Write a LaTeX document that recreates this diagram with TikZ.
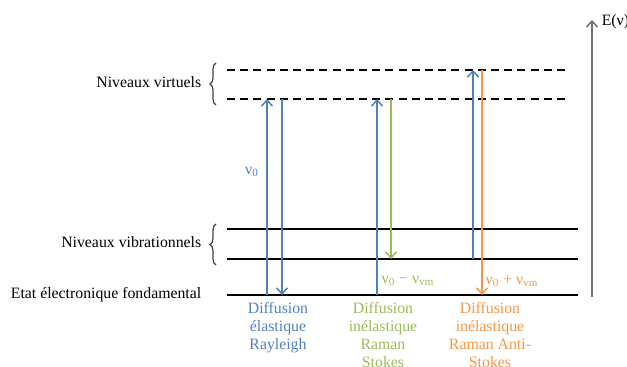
\documentclass[tikz,border=0pt]{standalone}
\usepackage{fontspec}
\setmainfont{Liberation Serif}
\usepackage{xcolor}
\usepackage{tikz}
\usetikzlibrary{arrows.meta,positioning,calc,decorations.pathreplacing}

\definecolor{rayblue}{HTML}{4F81BD}
\definecolor{stokesgreen}{HTML}{9BBB59}
\definecolor{antiorange}{HTML}{F79646}

\begin{document}
\begin{tikzpicture}[x=0.5pt, y=-0.5pt, line width=0.75pt, font=\fontsize{7.9}{9}\selectfont,
    level/.style={draw=black},
    virt/.style={draw=black, dash pattern=on 4pt off 2.6pt},
    trans/.style={-{Straight Barb[length=3pt,width=5.5pt]}},
    brc/.style={draw=black!75, line width=0.6pt, decorate, decoration={brace, amplitude=3pt}},
    lbl/.style={anchor=east, inner sep=0pt},
    proc/.style={anchor=north, align=center, inner sep=0pt}]
    \useasboundingbox (0,0) rectangle (627,367);
    % levels
    \coordinate (V1) at (227,70);  \coordinate (V1e) at (569,70);
    \coordinate (V2) at (227,99);  \coordinate (V2e) at (569,99);
    \coordinate (B1) at (227,229); \coordinate (B1e) at (578,229);
    \coordinate (B2) at (227,259); \coordinate (B2e) at (578,259);
    \coordinate (G)  at (227,295); \coordinate (Ge)  at (578,295);
    \draw[virt] (V1) -- (V1e);
    \draw[virt] (V2) -- (V2e);
    \draw[level] (B1) -- (B1e);
    \draw[level] (B2) -- (B2e);
    \draw[level] (G) -- (Ge);
    % braces and labels
    \coordinate (vb1) at (216,105); \coordinate (vb2) at (216,63);
    \coordinate (bb1) at (216,265); \coordinate (bb2) at (216,224);
    \draw[brc] (vb1) -- (vb2);
    \draw[brc] (bb1) -- (bb2);
    \node[lbl] (virtlbl) at (202,82) {Niveaux virtuels};
    \node[lbl] (viblbl) at (202,242) {Niveaux vibrationnels};
    \node[lbl] (fondlbl) at (202,295) {Etat électronique fondamental};
    % transitions
    \coordinate (rayUp) at (267,0); \coordinate (rayDn) at (282,0);
    \coordinate (stUp) at (377,0);  \coordinate (stDn) at (391,0);
    \coordinate (asUp) at (473,0);  \coordinate (asDn) at (482,0);
    \draw[rayblue, trans] (rayUp |- G) -- (rayUp |- V2);
    \draw[rayblue, trans] (rayDn |- V2) -- (rayDn |- G);
    \draw[rayblue, trans] (stUp |- G) -- (stUp |- V2);
    \draw[stokesgreen, trans] (stDn |- V2) -- (stDn |- B2);
    \draw[rayblue, trans] (asUp |- B2) -- (asUp |- V1);
    \draw[antiorange, trans] (asDn |- V1) -- (asDn |- G);
    \node[rayblue] (nu0) at (252,172) {ν\textsubscript{0}};
    \node[stokesgreen] (nuS) at (408,281) {ν\textsubscript{0} − ν\textsubscript{vm}};
    \node[antiorange] (nuAS) at (512,281) {ν\textsubscript{0} + ν\textsubscript{vm}};
    % processes
    \node[proc, rayblue] (ray) at (278,302) {Diffusion\\élastique\\Rayleigh};
    \node[proc, stokesgreen] (stokes) at (383,302) {Diffusion\\inélastique\\Raman\\Stokes};
    \node[proc, antiorange] (antistokes) at (490,302) {Diffusion\\inélastique\\Raman Anti-\\Stokes};
    % energy axis
    \coordinate (Ebot) at (592,297); \coordinate (Etop) at (592,20);
    \draw[black!55, trans] (Ebot) -- (Etop);
    \node[anchor=west, inner sep=0pt] (Elbl) at (601,22) {E(ν)};
\end{tikzpicture}
\end{document}
